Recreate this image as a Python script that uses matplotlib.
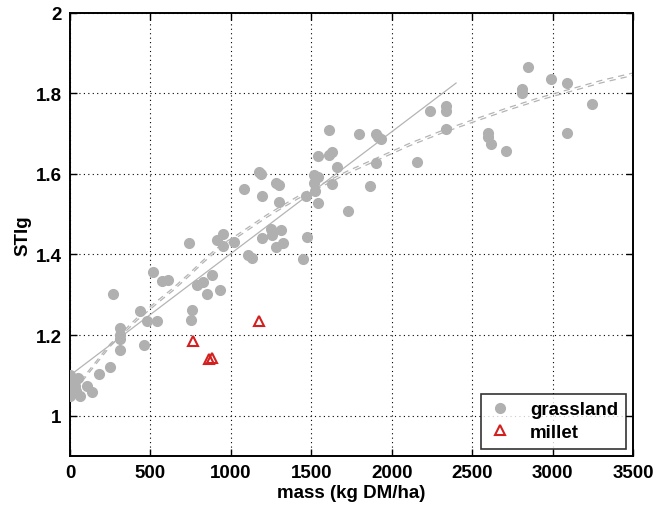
import matplotlib
matplotlib.use("Agg")
import matplotlib.pyplot as plt

plt.rcParams['font.family'] = ['Liberation Sans', 'DejaVu Sans']
plt.rcParams['font.weight'] = 'bold'

# grassland observations (mass kg DM/ha, STIg)
grass_mass = [0, 0, 31, 0, 31, 0, 0, 62, 104, 135, 50, 15, 40,
              182, 249, 270, 311, 311, 311, 311, 435, 460, 481, 539, 514, 570, 612,
              750, 761, 788, 829, 850, 742, 881, 933, 912, 949, 953, 1022, 1082,
              1177, 1186, 1192, 1109, 1130, 1192, 1250, 1254, 1312, 1323, 1281,
              1281, 1302, 1302, 1472, 1447, 1468, 1518, 1518, 1524, 1544, 1544,
              1540, 1627, 1731, 1658, 1611, 1613, 1631, 1799, 1866, 1901, 1917,
              1932, 1901, 2160, 2239, 2338, 2338, 2338, 2598, 2598, 2618, 2712,
              2809, 2809, 2850, 2989, 3089, 3248, 3089]
grass_stig = [1.102, 1.085, 1.085, 1.073, 1.073, 1.060, 1.048, 1.050, 1.073, 1.060, 1.094, 1.065, 1.062,
              1.104, 1.122, 1.302, 1.218, 1.201, 1.189, 1.164, 1.259, 1.176, 1.234, 1.234, 1.357, 1.334, 1.336,
              1.237, 1.263, 1.325, 1.332, 1.301, 1.429, 1.350, 1.311, 1.437, 1.450, 1.421, 1.432, 1.563,
              1.605, 1.599, 1.545, 1.398, 1.392, 1.440, 1.464, 1.448, 1.460, 1.429, 1.418,
              1.576, 1.571, 1.531, 1.444, 1.389, 1.545, 1.596, 1.578, 1.557, 1.528, 1.644,
              1.591, 1.574, 1.508, 1.618, 1.708, 1.646, 1.655, 1.698, 1.570, 1.698, 1.692,
              1.686, 1.626, 1.629, 1.755, 1.768, 1.755, 1.712, 1.702, 1.690, 1.673, 1.657,
              1.810, 1.800, 1.864, 1.835, 1.824, 1.774, 1.700]

# millet observations
millet_mass = [767, 865, 880, 1177]
millet_stig = [1.185, 1.141, 1.143, 1.234]

# linear fit line (endpoints)
lin_mass = [0, 2400]
lin_stig = [1.100, 1.825]

# curved fits (two nearly overlapping dashed curves)
curve_mass = [75, 250, 415, 549, 639, 742, 829, 933, 1037, 1130, 1223, 1327, 1416,
              1721, 1917, 2114, 2312, 2519, 2716, 2912, 3110, 3307, 3500]
curve_a = [1.085, 1.172, 1.236, 1.281, 1.310, 1.347, 1.380, 1.416, 1.442, 1.467, 1.492, 1.517, 1.538,
           1.600, 1.635, 1.670, 1.701, 1.730, 1.757, 1.782, 1.804, 1.826, 1.844]
curve_b = [1.091, 1.178, 1.242, 1.287, 1.316, 1.353, 1.386, 1.422, 1.448, 1.473, 1.498, 1.523, 1.544,
           1.606, 1.641, 1.676, 1.707, 1.736, 1.763, 1.788, 1.810, 1.832, 1.850]

xticks = [0, 500, 1000, 1500, 2000, 2500, 3000, 3500]
yticks = [1, 1.2, 1.4, 1.6, 1.8, 2]
ytick_labels = ['1', '1.2', '1.4', '1.6', '1.8', '2']

fig = plt.figure(figsize=(6.71, 5.06), dpi=100)
ax = fig.add_axes([0.1043, 0.0968, 0.8391, 0.8765])

gray = '#b4b4b4'
ax.plot(lin_mass, lin_stig, color=gray, lw=0.9, zorder=2)
ax.plot(curve_mass, curve_a, color=gray, lw=0.9, ls=(0, (5, 4)), zorder=2)
ax.plot(curve_mass, curve_b, color=gray, lw=0.9, ls=(2, (5, 4)), zorder=2)

ax.plot(grass_mass, grass_stig, 'o', ms=7, color='#b0b0b0', mec='#b0b0b0', zorder=3,
        label='grassland')
ax.plot(millet_mass, millet_stig, '^', ms=7, mfc='none', mec='#d21f1f', mew=1.5, zorder=4,
        label='millet')

ax.set_xlim(0, 3500)
ax.set_ylim(0.9, 2.0)
ax.set_xticks(xticks)
ax.set_yticks(yticks)
ax.set_yticklabels(ytick_labels)
ax.tick_params(direction='in', length=5, width=1, top=True, right=True,
               labelsize=13.5, pad=6)
for lab in ax.get_xticklabels() + ax.get_yticklabels():
    lab.set_fontweight('bold')
ax.grid(True, color='black', ls=(0, (1, 3)), lw=0.8)
for s in ax.spines.values():
    s.set_linewidth(1.4)

ax.set_xlabel('mass (kg DM/ha)', fontsize=13.5, fontweight='bold', labelpad=2)
ax.set_ylabel('STIg', fontsize=13.5, fontweight='bold', labelpad=3)

leg = ax.legend(loc='lower right', fontsize=13.5, frameon=True, fancybox=False,
                edgecolor='black', borderaxespad=0.4, handlelength=1.2,
                handletextpad=1.0, borderpad=0.4, labelspacing=0.3)
leg.get_frame().set_linewidth(1.2)
for t in leg.get_texts():
    t.set_fontweight('bold')

fig.savefig('out.png', dpi=100)
